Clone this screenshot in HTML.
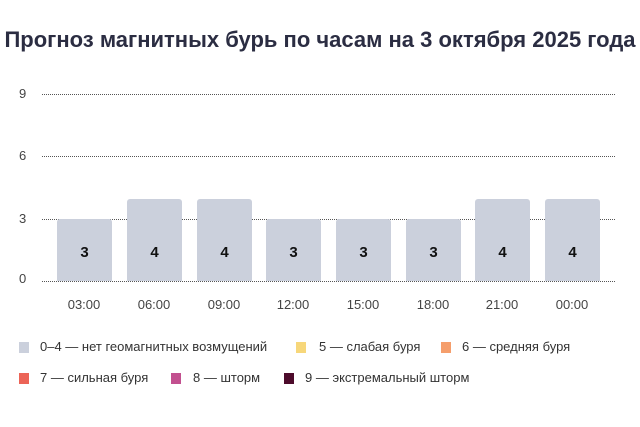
<!DOCTYPE html>
<html><head><meta charset="utf-8"><style>
body{margin:0;width:640px;height:427px;background:#fff;font-family:"Liberation Sans","DejaVu Sans",sans-serif;position:relative;overflow:hidden}
.t{position:absolute;left:0;width:640px;top:27px;text-align:center;font-weight:bold;font-size:22px;color:#2b2d42;white-space:nowrap;letter-spacing:0px}
.g{position:absolute;left:42px;width:573px;border-top:1px dotted #555}
.yl{position:absolute;left:19px;font-size:13px;color:#444}
.b{position:absolute;width:55px;background:#cbd0dc;border-radius:3px 3px 0 0}
.bn{position:absolute;width:55px;text-align:center;font-weight:bold;font-size:15px;color:#111;top:244px}
.xl{position:absolute;width:70px;text-align:center;font-size:13px;color:#444;top:297px}
.sq{position:absolute;width:10px;height:11px}
.lt{position:absolute;font-size:13px;color:#333;white-space:nowrap}
</style></head><body>
<div class="t">Прогноз магнитных бурь по часам на 3 октября 2025 года</div>
<div class="g" style="top:94px"></div><div class="g" style="top:156px"></div><div class="g" style="top:219px"></div><div class="g" style="top:281px"></div>
<div class="yl" style="top:86px">9</div><div class="yl" style="top:148px">6</div><div class="yl" style="top:211px">3</div><div class="yl" style="top:271px">0</div>

<div class="b" style="left:57px;top:219px;height:62px"></div><div class="bn" style="left:57px">3</div><div class="xl" style="left:49px">03:00</div>
<div class="b" style="left:127px;top:199px;height:82px"></div><div class="bn" style="left:127px">4</div><div class="xl" style="left:119px">06:00</div>
<div class="b" style="left:197px;top:199px;height:82px"></div><div class="bn" style="left:197px">4</div><div class="xl" style="left:189px">09:00</div>
<div class="b" style="left:266px;top:219px;height:62px"></div><div class="bn" style="left:266px">3</div><div class="xl" style="left:258px">12:00</div>
<div class="b" style="left:336px;top:219px;height:62px"></div><div class="bn" style="left:336px">3</div><div class="xl" style="left:328px">15:00</div>
<div class="b" style="left:406px;top:219px;height:62px"></div><div class="bn" style="left:406px">3</div><div class="xl" style="left:398px">18:00</div>
<div class="b" style="left:475px;top:199px;height:82px"></div><div class="bn" style="left:475px">4</div><div class="xl" style="left:467px">21:00</div>
<div class="b" style="left:545px;top:199px;height:82px"></div><div class="bn" style="left:545px">4</div><div class="xl" style="left:537px">00:00</div>

<div class="sq" style="left:19px;top:342px;background:#cbd0dc"></div><div class="lt" style="left:40px;top:339px">0–4 — нет геомагнитных возмущений</div>
<div class="sq" style="left:296px;top:342px;background:#f7d77a"></div><div class="lt" style="left:319px;top:339px">5 — слабая буря</div>
<div class="sq" style="left:441px;top:342px;background:#f59e6c"></div><div class="lt" style="left:462px;top:339px">6 — средняя буря</div>
<div class="sq" style="left:19px;top:373px;background:#ec6457"></div><div class="lt" style="left:40px;top:370px">7 — сильная буря</div>
<div class="sq" style="left:171px;top:373px;background:#c2508f"></div><div class="lt" style="left:193px;top:370px">8 — шторм</div>
<div class="sq" style="left:284px;top:373px;background:#4d0b2b"></div><div class="lt" style="left:305px;top:370px">9 — экстремальный шторм</div>
</body></html>
